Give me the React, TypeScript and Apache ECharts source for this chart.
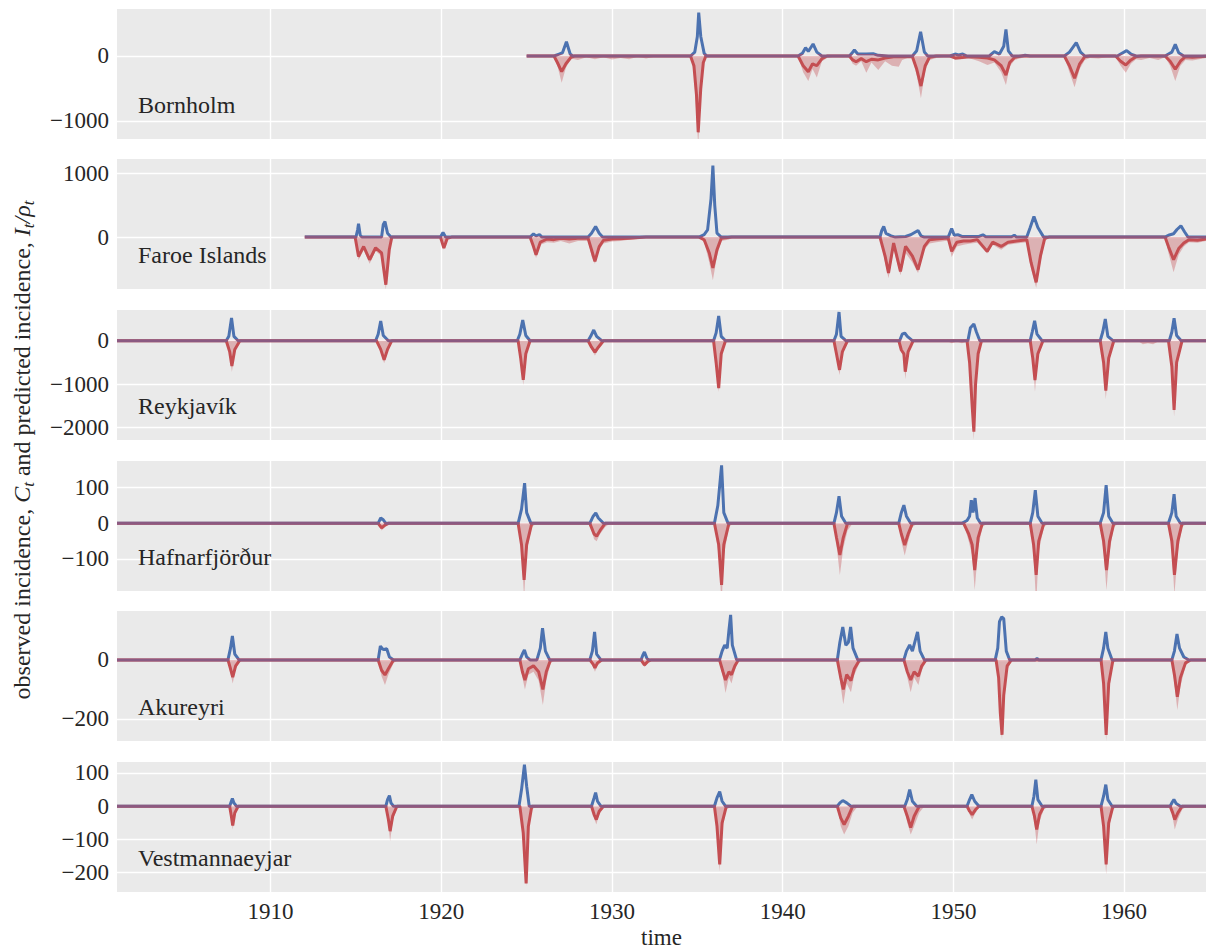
import React, { useEffect, useRef } from 'react';
import * as echarts from 'echarts';

type P = [number, number][];

const locations = ['Bornholm', 'Faroe Islands', 'Reykjavík', 'Hafnarfjörður', 'Akureyri', 'Vestmannaeyjar'];
const yMin = [-1277, -818, -2283, -190, -275, -258];
const yMax = [723, 1231, 706, 175, 166, 133];
const yTicks = [[-1000, 0], [0, 1000], [-2000, -1000, 0], [-100, 0, 100], [-200, 0], [-200, -100, 0, 100]];
const zeroBand = [25, 25, 37, 4.5, 5.4, 4.8];
const xTicks = [1910, 1920, 1930, 1940, 1950, 1960];
const xMin = 1901;
const xMax = 1964.8;

// ---------- Bornholm ----------
const bornholmObserved: P = [
  [1925.0, 0], [1926.6, 0], [1926.9, 30], [1927.1, 50], [1927.33, 220], [1927.55, 30], [1927.7, 0],
  [1934.6, 0], [1934.85, 60], [1935.0, 300], [1935.08, 666], [1935.2, 300], [1935.4, 40], [1935.55, 0],
  [1940.9, 0], [1941.15, 40], [1941.34, 128], [1941.5, 70], [1941.78, 185], [1942.0, 60], [1942.3, 0],
  [1943.9, 0], [1944.05, 40], [1944.2, 92], [1944.4, 30], [1944.9, 30], [1945.3, 35], [1945.6, 10], [1946.2, 0],
  [1947.6, 0], [1947.85, 80], [1948.08, 374], [1948.3, 60], [1948.5, 0],
  [1949.8, 0], [1950.1, 30], [1950.3, 15], [1950.55, 30], [1950.8, 0],
  [1952.1, 0], [1952.4, 66], [1952.7, 30], [1952.95, 150], [1953.08, 410], [1953.22, 80], [1953.45, 0],
  [1954.0, 0], [1954.2, 10], [1954.5, 0],
  [1956.5, 0], [1956.8, 60], [1957.2, 205], [1957.45, 60], [1957.7, 0],
  [1959.6, 0], [1959.8, 30], [1960.15, 82], [1960.4, 30], [1960.7, 0],
  [1962.4, 0], [1962.6, 30], [1962.8, 60], [1963.0, 180], [1963.2, 50], [1963.5, 0], [1964.8, 0],
];
const bornholmPredicted: P = [
  [1925.0, 0], [1926.6, 0], [1926.8, -100], [1927.05, -240], [1927.3, -120], [1927.6, -20], [1927.8, 0],
  [1934.6, 0], [1934.8, -150], [1934.95, -600], [1935.05, -1174], [1935.2, -500], [1935.35, -100], [1935.5, 0],
  [1940.9, 0], [1941.2, -150], [1941.5, -241], [1941.75, -120], [1942.0, -150], [1942.3, -40], [1942.6, 0],
  [1943.9, 0], [1944.1, -60], [1944.3, -88], [1944.6, -40], [1944.9, -88], [1945.2, -50], [1945.6, -60], [1946.0, -30], [1946.5, -10],
  [1947.6, -10], [1947.85, -200], [1948.1, -462], [1948.35, -150], [1948.6, -20], [1949.0, 0],
  [1949.8, 0], [1950.1, -30], [1950.5, -25], [1950.9, -10], [1951.5, -20], [1952.0, -30], [1952.4, -60], [1952.8, -150], [1953.08, -292], [1953.3, -100], [1953.6, -20], [1954.0, 0],
  [1956.5, 0], [1956.8, -150], [1957.1, -343], [1957.4, -120], [1957.7, -10], [1958.0, 0],
  [1959.5, 0], [1959.8, -80], [1960.1, -138], [1960.4, -60], [1960.7, -10], [1961.0, 0],
  [1962.4, 0], [1962.7, -80], [1963.0, -205], [1963.3, -80], [1963.6, -10], [1964.0, -20], [1964.8, -5],
];
const bornholmBand: P = [
  [1925.0, 0], [1926.6, 0], [1926.8, -150], [1927.05, -410], [1927.3, -180], [1927.6, -40], [1928.0, -60], [1928.5, -20], [1929.0, -50], [1929.5, -20], [1930.0, -55], [1930.5, -30], [1931.0, -50], [1931.5, -10], [1932.0, -40], [1932.5, -10], [1933.0, 0],
  [1934.6, 0], [1934.8, -250], [1935.05, -1370], [1935.2, -650], [1935.35, -150], [1935.5, -20], [1935.8, 0],
  [1940.9, 0], [1941.2, -250], [1941.5, -385], [1941.75, -200], [1942.0, -330], [1942.3, -80], [1942.6, -30], [1943.0, -10], [1943.5, -20],
  [1943.9, -10], [1944.1, -120], [1944.3, -150], [1944.6, -80], [1944.9, -257], [1945.2, -100], [1945.6, -215], [1946.0, -80], [1946.4, -150], [1946.8, -165], [1947.0, -60], [1947.3, -30],
  [1947.6, -30], [1947.85, -300], [1948.1, -650], [1948.35, -220], [1948.6, -60], [1949.0, -30], [1949.5, -10],
  [1949.8, -10], [1950.1, -60], [1950.5, -50], [1950.9, -30], [1951.5, -80], [1952.0, -140], [1952.4, -100], [1952.8, -250], [1953.08, -446], [1953.3, -160], [1953.6, -60], [1954.0, -30], [1954.5, -20], [1955.0, -10],
  [1956.5, -10], [1956.8, -250], [1957.1, -482], [1957.4, -200], [1957.7, -60], [1958.0, -30], [1958.5, -40], [1959.0, -20],
  [1959.5, -20], [1959.8, -150], [1960.1, -257], [1960.4, -120], [1960.7, -50], [1961.0, -60], [1961.5, -30], [1962.0, -60],
  [1962.4, -20], [1962.7, -150], [1963.0, -385], [1963.3, -150], [1963.6, -60], [1964.0, -70], [1964.8, -30],
];

// ---------- Faroe Islands ----------
const faroeObserved: P = [
  [1912.0, 0], [1915.0, 0], [1915.1, 120], [1915.15, 209], [1915.25, 30], [1915.35, 0], [1916.5, 0], [1916.6, 200], [1916.7, 245], [1916.85, 60], [1917.05, 0],
  [1919.95, 0], [1920.1, 72], [1920.25, 0],
  [1925.2, 0], [1925.4, 50], [1925.55, 20], [1925.75, 40], [1925.9, 0],
  [1928.6, 0], [1928.8, 60], [1929.04, 168], [1929.25, 60], [1929.45, 0],
  [1935.1, 0], [1935.4, 40], [1935.6, 115], [1935.8, 600], [1935.91, 1126], [1936.02, 500], [1936.15, 63], [1936.4, 0],
  [1945.7, 0], [1945.8, 100], [1945.92, 168], [1946.05, 60], [1946.35, 20], [1946.6, 0], [1947.2, 10], [1947.5, 37], [1947.93, 105], [1948.1, 20], [1948.3, 0],
  [1949.7, 0], [1949.9, 136], [1950.05, 30], [1950.26, 37], [1950.5, 10], [1951.5, 10], [1951.73, 37], [1951.9, 5], [1953.4, 5], [1953.57, 30], [1953.7, 0],
  [1954.3, 0], [1954.5, 150], [1954.72, 325], [1954.95, 150], [1955.29, 0],
  [1962.4, 0], [1962.6, 30], [1962.9, 52], [1963.1, 120], [1963.33, 178], [1963.55, 80], [1963.75, 0], [1964.8, 0],
];
const faroePredicted: P = [
  [1912.0, 0], [1914.95, 0], [1915.15, -305], [1915.45, -148], [1915.8, -357], [1916.15, -168], [1916.5, -250], [1916.75, -750], [1916.95, -200], [1917.1, 0],
  [1919.95, 0], [1920.15, -173], [1920.35, -20], [1920.6, 0],
  [1925.2, 0], [1925.4, -150], [1925.55, -278], [1925.8, -80], [1926.2, -30], [1926.6, -40], [1927.0, -20], [1927.5, -30], [1928.0, -20], [1928.6, -20], [1928.8, -200], [1929.0, -382], [1929.25, -150], [1929.5, -50], [1930.0, -30], [1931.0, -20], [1932.0, 0],
  [1935.1, 0], [1935.4, -42], [1935.7, -250], [1935.91, -487], [1936.15, -200], [1936.4, -20], [1937.0, 0],
  [1945.7, 0], [1946.0, -300], [1946.2, -565], [1946.5, -94], [1946.9, -540], [1947.2, -146], [1947.6, -300], [1947.93, -513], [1948.3, -146], [1948.6, -40], [1949.0, -30], [1949.5, -20],
  [1949.7, -20], [1949.9, -225], [1950.2, -80], [1950.6, -60], [1951.0, -60], [1951.4, -40], [1951.98, -225], [1952.3, -80], [1952.8, -147], [1953.2, -80], [1953.7, -60], [1954.3, -40], [1954.55, -400], [1954.85, -712], [1955.1, -300], [1955.35, -20], [1955.6, 0],
  [1962.4, 0], [1962.6, -150], [1962.9, -356], [1963.2, -180], [1963.5, -94], [1963.8, -40], [1964.3, -50], [1964.8, -30],
];
const faroeBand: P = [
  [1912.0, 0], [1914.95, 0], [1915.15, -360], [1915.45, -200], [1915.8, -420], [1916.15, -220], [1916.5, -300], [1916.75, -828], [1916.95, -260], [1917.1, -20], [1917.4, 0],
  [1919.95, 0], [1920.15, -200], [1920.35, -40], [1920.6, 0],
  [1925.2, 0], [1925.4, -200], [1925.55, -330], [1925.8, -120], [1926.2, -80], [1926.6, -90], [1927.0, -60], [1927.5, -100], [1928.0, -60], [1928.6, -60], [1928.8, -300], [1929.0, -419], [1929.25, -200], [1929.5, -100], [1930.0, -70], [1930.5, -60], [1931.0, -40], [1931.5, -30], [1932.0, -10],
  [1935.1, -5], [1935.4, -80], [1935.7, -400], [1935.91, -680], [1936.15, -300], [1936.4, -60], [1936.8, -40], [1937.2, 0],
  [1945.7, 0], [1946.0, -400], [1946.2, -650], [1946.5, -200], [1946.9, -600], [1947.2, -250], [1947.6, -400], [1947.93, -565], [1948.3, -200], [1948.6, -100], [1949.0, -80], [1949.5, -60],
  [1949.7, -60], [1949.9, -314], [1950.2, -150], [1950.6, -120], [1951.0, -100], [1951.4, -90], [1951.98, -260], [1952.3, -120], [1952.8, -200], [1953.2, -120], [1953.7, -100], [1954.3, -80], [1954.55, -500], [1954.85, -800], [1955.1, -400], [1955.35, -60], [1955.6, -10],
  [1962.4, -10], [1962.6, -250], [1962.9, -555], [1963.2, -280], [1963.5, -150], [1963.8, -80], [1964.3, -90], [1964.8, -60],
];

// ---------- Reykjavík ----------
const reykjavikObserved: P = [
  [1901, 0], [1907.4, 0], [1907.55, 100], [1907.71, 522], [1907.85, 100], [1908.1, 0],
  [1916.15, 0], [1916.3, 150], [1916.45, 453], [1916.6, 120], [1916.9, 0],
  [1924.45, 0], [1924.6, 150], [1924.77, 476], [1924.95, 120], [1925.2, 0],
  [1928.6, 0], [1928.75, 100], [1928.93, 246], [1929.1, 100], [1929.4, 0],
  [1935.95, 0], [1936.1, 180], [1936.25, 568], [1936.4, 100], [1936.65, 0],
  [1943.0, 0], [1943.15, 150], [1943.3, 660], [1943.42, 100], [1943.7, 0],
  [1946.85, 0], [1947.0, 150], [1947.15, 177], [1947.3, 100], [1947.6, 0],
  [1950.85, 0], [1951.0, 300], [1951.2, 384], [1951.35, 200], [1951.55, 0],
  [1954.5, 0], [1954.62, 200], [1954.76, 460], [1954.9, 150], [1955.2, 0],
  [1958.6, 0], [1958.75, 200], [1958.9, 498], [1959.05, 100], [1959.35, 0],
  [1962.65, 0], [1962.8, 200], [1962.93, 515], [1963.08, 120], [1963.35, 0], [1964.8, 0],
];
const reykjavikPredicted: P = [
  [1901, 0], [1907.4, 0], [1907.6, -250], [1907.73, -580], [1907.9, -200], [1908.2, 0],
  [1916.2, 0], [1916.45, -200], [1916.65, -440], [1916.85, -200], [1917.1, 0],
  [1924.5, 0], [1924.65, -400], [1924.8, -900], [1924.95, -300], [1925.2, 0],
  [1928.6, 0], [1928.8, -150], [1929.0, -260], [1929.2, -150], [1929.5, 0],
  [1935.95, 0], [1936.1, -500], [1936.25, -1090], [1936.4, -300], [1936.65, 0],
  [1943.0, 0], [1943.15, -300], [1943.33, -670], [1943.5, -250], [1943.8, 0],
  [1946.8, 0], [1946.95, -214], [1947.1, -300], [1947.18, -712], [1947.35, -250], [1947.65, 0],
  [1950.8, 0], [1950.95, -500], [1951.1, -1500], [1951.2, -2092], [1951.3, -1000], [1951.45, -300], [1951.65, 0],
  [1954.5, 0], [1954.65, -400], [1954.78, -903], [1954.95, -300], [1955.25, 0],
  [1958.6, 0], [1958.8, -500], [1958.93, -1149], [1959.1, -400], [1959.4, 0],
  [1962.6, 0], [1962.8, -600], [1962.93, -1593], [1963.08, -500], [1963.4, 0], [1964.8, 0],
];
const reykjavikBand: P = [
  [1901, 0], [1907.4, 0], [1907.6, -300], [1907.73, -720], [1907.9, -260], [1908.2, -20], [1908.5, 0],
  [1916.2, 0], [1916.45, -260], [1916.65, -520], [1916.85, -260], [1917.1, -30], [1917.4, 0],
  [1924.5, 0], [1924.65, -480], [1924.8, -1020], [1924.95, -380], [1925.2, -30], [1925.5, 0],
  [1928.6, 0], [1928.8, -200], [1929.0, -340], [1929.2, -200], [1929.5, -30], [1929.8, 0],
  [1935.95, 0], [1936.1, -600], [1936.25, -1180], [1936.4, -400], [1936.65, -30], [1936.9, 0],
  [1943.0, 0], [1943.15, -380], [1943.33, -790], [1943.5, -320], [1943.8, -30], [1944.1, 0],
  [1946.8, 0], [1946.95, -260], [1947.1, -380], [1947.18, -887], [1947.35, -320], [1947.65, -30], [1948.0, 0],
  [1949.6, 0], [1949.9, -60], [1950.2, -20], [1950.5, -60], [1950.8, -20], [1950.95, -600], [1951.1, -1700], [1951.2, -2283], [1951.3, -1200], [1951.45, -400], [1951.65, -30], [1952.0, 0],
  [1954.5, 0], [1954.65, -500], [1954.78, -1172], [1954.95, -400], [1955.25, -30], [1955.6, 0],
  [1958.6, 0], [1958.8, -600], [1958.93, -1348], [1959.1, -500], [1959.4, -30], [1959.7, 0],
  [1960.8, 0], [1961.1, -80], [1961.4, -60], [1961.7, -80], [1962.0, -20],
  [1962.6, -10], [1962.8, -700], [1962.93, -1747], [1963.08, -600], [1963.4, -30], [1963.8, 0], [1964.8, 0],
];

// ---------- Hafnarfjörður ----------
const hafnarObserved: P = [
  [1901, 0], [1916.3, 0], [1916.45, 15], [1916.6, 10], [1916.75, 0],
  [1924.5, 0], [1924.7, 40], [1924.88, 113], [1925.0, 30], [1925.25, 0],
  [1928.7, 0], [1928.9, 20], [1929.05, 29], [1929.2, 15], [1929.5, 0],
  [1936.0, 0], [1936.2, 50], [1936.42, 163], [1936.55, 30], [1936.8, 0],
  [1943.0, 0], [1943.15, 30], [1943.3, 76], [1943.45, 20], [1943.7, 0],
  [1946.8, 0], [1946.95, 30], [1947.1, 51], [1947.25, 20], [1947.5, 0],
  [1950.5, 0], [1950.8, 8], [1950.95, 20], [1951.05, 65], [1951.15, 30], [1951.27, 71], [1951.4, 15], [1951.6, 0],
  [1954.5, 0], [1954.65, 30], [1954.8, 93], [1954.95, 20], [1955.2, 0],
  [1958.6, 0], [1958.8, 30], [1958.95, 107], [1959.1, 20], [1959.35, 0],
  [1962.6, 0], [1962.8, 30], [1962.93, 82], [1963.05, 20], [1963.3, 0], [1964.8, 0],
];
const hafnarPredicted: P = [
  [1901, 0], [1916.3, 0], [1916.5, -13], [1916.7, -5], [1916.9, 0],
  [1924.5, 0], [1924.7, -60], [1924.85, -159], [1925.0, -60], [1925.3, 0],
  [1928.7, 0], [1928.95, -30], [1929.1, -36], [1929.3, -20], [1929.6, 0],
  [1936.0, 0], [1936.25, -60], [1936.42, -173], [1936.55, -60], [1936.85, 0],
  [1943.0, 0], [1943.15, -40], [1943.35, -89], [1943.55, -40], [1943.8, 0],
  [1946.8, 0], [1946.95, -30], [1947.15, -61], [1947.35, -30], [1947.6, 0],
  [1950.6, 0], [1950.9, -30], [1951.1, -60], [1951.25, -131], [1951.45, -40], [1951.7, 0],
  [1954.5, 0], [1954.7, -60], [1954.85, -145], [1955.0, -50], [1955.3, 0],
  [1958.6, 0], [1958.8, -50], [1958.97, -131], [1959.15, -50], [1959.4, 0],
  [1962.6, 0], [1962.8, -50], [1962.95, -145], [1963.15, -50], [1963.4, 0], [1964.8, 0],
];
const hafnarBand: P = [
  [1901, 0], [1916.3, 0], [1916.5, -20], [1916.7, -10], [1916.9, 0],
  [1924.5, 0], [1924.7, -80], [1924.85, -209], [1925.0, -80], [1925.3, -10], [1925.6, 0],
  [1928.7, 0], [1928.95, -45], [1929.1, -50], [1929.3, -30], [1929.6, -10], [1929.9, 0],
  [1936.0, 0], [1936.25, -90], [1936.42, -230], [1936.55, -90], [1936.85, -10], [1937.1, 0],
  [1943.0, 0], [1943.15, -60], [1943.35, -145], [1943.55, -70], [1943.8, -20], [1944.1, 0],
  [1946.8, 0], [1946.95, -50], [1947.15, -90], [1947.35, -50], [1947.6, -10], [1947.9, 0],
  [1950.6, 0], [1950.9, -50], [1951.1, -90], [1951.25, -187], [1951.45, -70], [1951.7, -10], [1952.0, 0],
  [1954.5, 0], [1954.7, -90], [1954.85, -230], [1955.0, -80], [1955.3, -10], [1955.6, 0],
  [1958.6, 0], [1958.8, -80], [1958.97, -187], [1959.15, -80], [1959.4, -10], [1959.7, 0],
  [1962.6, 0], [1962.8, -80], [1962.95, -200], [1963.15, -80], [1963.4, -10], [1963.7, 0], [1964.8, 0],
];

// ---------- Akureyri ----------
const akureyriObserved: P = [
  [1901, 0], [1907.5, 0], [1907.65, 40], [1907.76, 81], [1907.9, 20], [1908.15, 0],
  [1916.3, 0], [1916.43, 47], [1916.6, 35], [1916.8, 38], [1916.96, 10], [1917.2, 0],
  [1924.6, 0], [1924.75, 20], [1924.87, 34], [1925.0, 10], [1925.2, 0], [1925.6, 0], [1925.8, 40], [1925.93, 108], [1926.1, 30], [1926.35, 0],
  [1928.7, 0], [1928.85, 30], [1928.98, 95], [1929.1, 20], [1929.35, 0],
  [1931.7, 0], [1931.8, 15], [1931.9, 27], [1932.05, 5], [1932.2, 0],
  [1936.3, 0], [1936.45, 30], [1936.6, 50], [1936.75, 40], [1936.85, 100], [1936.95, 153], [1937.05, 50], [1937.3, 0],
  [1943.2, 0], [1943.35, 60], [1943.52, 112], [1943.7, 50], [1943.85, 60], [1943.98, 112], [1944.12, 40], [1944.4, 0],
  [1947.1, 0], [1947.25, 30], [1947.44, 51], [1947.6, 30], [1947.9, 95], [1948.05, 30], [1948.3, 0],
  [1952.45, 0], [1952.6, 40], [1952.7, 130], [1952.83, 146], [1952.95, 140], [1953.1, 30], [1953.3, 0],
  [1954.8, 0], [1954.9, 5], [1955.0, 0],
  [1958.65, 0], [1958.8, 40], [1958.93, 95], [1959.05, 40], [1959.3, 0],
  [1962.8, 0], [1962.95, 30], [1963.1, 88], [1963.25, 40], [1963.5, 10], [1963.8, 0], [1964.8, 0],
];
const akureyriPredicted: P = [
  [1901, 0], [1907.5, 0], [1907.65, -30], [1907.78, -58], [1907.95, -20], [1908.2, 0],
  [1916.3, 0], [1916.5, -35], [1916.7, -51], [1916.9, -30], [1917.2, 0],
  [1924.6, 0], [1924.75, -40], [1924.9, -68], [1925.1, -30], [1925.4, -20], [1925.7, -40], [1925.95, -100], [1926.15, -40], [1926.4, 0],
  [1928.7, 0], [1928.9, -15], [1929.0, -27], [1929.15, -10], [1929.4, 0],
  [1931.7, 0], [1931.9, -17], [1932.1, -5], [1932.3, 0],
  [1936.3, 0], [1936.5, -40], [1936.65, -68], [1936.85, -40], [1937.0, -50], [1937.2, -20], [1937.4, 0],
  [1943.2, 0], [1943.4, -60], [1943.55, -100], [1943.75, -50], [1944.0, -70], [1944.2, -30], [1944.5, 0],
  [1947.1, 0], [1947.3, -40], [1947.5, -68], [1947.7, -40], [1947.95, -55], [1948.15, -20], [1948.4, 0],
  [1952.5, 0], [1952.65, -60], [1952.75, -180], [1952.85, -254], [1952.95, -120], [1953.15, -20], [1953.4, 0],
  [1958.65, 0], [1958.8, -80], [1958.95, -254], [1959.1, -80], [1959.35, 0],
  [1962.8, 0], [1962.95, -50], [1963.12, -125], [1963.3, -60], [1963.6, -10], [1963.9, 0], [1964.8, 0],
];
const akureyriBand: P = [
  [1901, 0], [1907.5, 0], [1907.65, -45], [1907.78, -80], [1907.95, -30], [1908.2, -5], [1908.5, 0],
  [1916.3, 0], [1916.5, -55], [1916.7, -85], [1916.9, -50], [1917.2, -10], [1917.5, 0],
  [1924.6, 0], [1924.75, -60], [1924.9, -100], [1925.1, -50], [1925.4, -40], [1925.7, -70], [1925.95, -153], [1926.15, -70], [1926.4, -10], [1926.7, 0],
  [1928.7, 0], [1928.9, -25], [1929.0, -40], [1929.15, -20], [1929.4, -5], [1929.7, 0],
  [1931.7, 0], [1931.9, -25], [1932.1, -10], [1932.3, 0],
  [1936.3, 0], [1936.5, -60], [1936.65, -112], [1936.85, -60], [1937.0, -80], [1937.2, -35], [1937.4, -5], [1937.7, 0],
  [1943.2, 0], [1943.4, -90], [1943.55, -150], [1943.75, -80], [1944.0, -110], [1944.2, -50], [1944.5, -10], [1944.8, 0],
  [1947.1, 0], [1947.3, -60], [1947.5, -110], [1947.7, -60], [1947.95, -85], [1948.15, -35], [1948.4, -5], [1948.7, 0],
  [1952.5, 0], [1952.65, -80], [1952.75, -220], [1952.85, -270], [1952.95, -150], [1953.15, -35], [1953.4, -5], [1953.7, 0],
  [1958.65, 0], [1958.8, -110], [1958.95, -275], [1959.1, -110], [1959.35, -10], [1959.6, 0],
  [1962.8, 0], [1962.95, -80], [1963.12, -170], [1963.3, -90], [1963.6, -20], [1963.9, 0], [1964.8, 0],
];

// ---------- Vestmannaeyjar ----------
const vestObserved: P = [
  [1901, 0], [1907.6, 0], [1907.7, 15], [1907.76, 23], [1907.85, 10], [1908.0, 0],
  [1916.75, 0], [1916.85, 20], [1916.96, 32], [1917.05, 10], [1917.2, 0],
  [1924.55, 0], [1924.7, 50], [1924.87, 125], [1925.0, 60], [1925.15, 0],
  [1928.8, 0], [1928.95, 25], [1929.04, 41], [1929.15, 15], [1929.35, 0],
  [1936.0, 0], [1936.15, 25], [1936.31, 44], [1936.45, 15], [1936.65, 0],
  [1943.2, 0], [1943.35, 10], [1943.52, 17], [1943.75, 10], [1944.0, 0],
  [1947.15, 0], [1947.3, 20], [1947.44, 50], [1947.6, 15], [1947.85, 0],
  [1950.8, 0], [1950.95, 20], [1951.08, 35], [1951.25, 15], [1951.5, 0],
  [1954.6, 0], [1954.72, 30], [1954.83, 80], [1954.95, 20], [1955.2, 0],
  [1958.65, 0], [1958.8, 30], [1958.93, 65], [1959.05, 20], [1959.3, 0],
  [1962.7, 0], [1962.82, 12], [1962.92, 20], [1963.05, 8], [1963.3, 0], [1964.8, 0],
];
const vestPredicted: P = [
  [1901, 0], [1907.6, 0], [1907.7, -30], [1907.78, -58], [1907.9, -20], [1908.1, 0],
  [1916.75, 0], [1916.9, -40], [1917.0, -75], [1917.15, -30], [1917.4, 0],
  [1924.6, 0], [1924.8, -80], [1924.97, -232], [1925.1, -60], [1925.3, 0],
  [1928.8, 0], [1928.95, -25], [1929.08, -40], [1929.25, -15], [1929.5, 0],
  [1936.0, 0], [1936.15, -60], [1936.31, -175], [1936.45, -50], [1936.7, 0],
  [1943.2, 0], [1943.4, -35], [1943.6, -55], [1943.85, -30], [1944.1, 0],
  [1947.1, 0], [1947.3, -30], [1947.5, -64], [1947.7, -30], [1948.0, 0],
  [1950.8, 0], [1950.95, -15], [1951.1, -25], [1951.3, -10], [1951.5, 0],
  [1954.6, 0], [1954.75, -30], [1954.88, -70], [1955.05, -25], [1955.3, 0],
  [1958.65, 0], [1958.8, -60], [1958.95, -175], [1959.1, -50], [1959.35, 0],
  [1962.7, 0], [1962.85, -20], [1962.97, -40], [1963.15, -20], [1963.4, 0], [1964.8, 0],
];
const vestBand: P = [
  [1901, 0], [1907.6, 0], [1907.7, -40], [1907.78, -70], [1907.9, -30], [1908.1, -5], [1908.3, 0],
  [1916.75, 0], [1916.9, -55], [1917.0, -105], [1917.15, -45], [1917.4, -5], [1917.7, 0],
  [1924.6, 0], [1924.8, -100], [1924.97, -240], [1925.1, -80], [1925.3, -10], [1925.6, 0],
  [1928.8, 0], [1928.95, -35], [1929.08, -55], [1929.25, -25], [1929.5, -5], [1929.8, 0],
  [1936.0, 0], [1936.15, -80], [1936.31, -196], [1936.45, -70], [1936.7, -10], [1937.0, 0],
  [1943.2, 0], [1943.4, -60], [1943.6, -85], [1943.85, -60], [1944.1, -20], [1944.4, 0],
  [1947.1, 0], [1947.3, -50], [1947.5, -85], [1947.7, -60], [1948.0, -20], [1948.3, 0],
  [1950.8, 0], [1950.95, -25], [1951.1, -40], [1951.3, -20], [1951.5, -5], [1951.8, 0],
  [1954.6, 0], [1954.75, -50], [1954.88, -115], [1955.05, -45], [1955.3, -10], [1955.6, 0],
  [1958.65, 0], [1958.8, -80], [1958.95, -205], [1959.1, -70], [1959.35, -10], [1959.6, 0],
  [1962.7, 0], [1962.85, -35], [1962.97, -70], [1963.15, -40], [1963.4, -10], [1963.7, 0], [1964.8, 0],
];

const observed: P[] = [bornholmObserved, faroeObserved, reykjavikObserved, hafnarObserved, akureyriObserved, vestObserved];
const predicted: P[] = [bornholmPredicted, faroePredicted, reykjavikPredicted, hafnarPredicted, akureyriPredicted, vestPredicted];
const bands: P[] = [bornholmBand, faroeBand, reykjavikBand, hafnarBand, akureyriBand, vestBand];

const BLUE = '#4C72B0';
const RED = '#C44E52';
const MAUVE = '#8B5A82';
const BAND = 'rgba(196,78,82,0.36)';
const BG = '#EAEAEA';
const TEXT = '#262626';
const FONT = 'Liberation Serif';

const gridTops = [9, 159, 310, 461, 611, 762];
const gridLeft = 117;
const gridHeight = 130;

const fmt = (v: number) => (v < 0 ? '\u2212' + Math.abs(v) : String(v));

function buildOption() {
  const grid: any[] = [];
  const xAxis: any[] = [];
  const yAxis: any[] = [];
  const series: any[] = [];
  const visualMap: any[] = [];
  const graphic: any[] = [];

  locations.forEach((name, i) => {
    grid.push({
      left: gridLeft, right: 0, top: gridTops[i], height: gridHeight,
      show: true, backgroundColor: BG, borderWidth: 0,
    });
    const last = i === locations.length - 1;
    xAxis.push({
      type: 'value', gridIndex: i, min: xMin, max: xMax,
      axisLine: { show: false },
      axisTick: { show: false, customValues: xTicks },
      axisLabel: {
        show: last, customValues: xTicks, margin: 8,
        color: TEXT, fontFamily: FONT, fontSize: 23,
        formatter: (v: number) => String(v),
      },
      splitLine: { show: true, lineStyle: { color: '#FFFFFF', width: 1.4 } },
      name: last ? 'time' : '',
      nameLocation: 'middle', nameGap: 34,
      nameTextStyle: { color: TEXT, fontFamily: FONT, fontSize: 23 },
    });
    yAxis.push({
      type: 'value', gridIndex: i, min: yMin[i], max: yMax[i],
      axisLine: { show: false },
      axisTick: { show: false, customValues: yTicks[i] },
      axisLabel: {
        customValues: yTicks[i], margin: 8,
        color: TEXT, fontFamily: FONT, fontSize: 23,
        formatter: fmt,
      },
      splitLine: { show: true, lineStyle: { color: '#FFFFFF', width: 1.4 } },
    });
    series.push({
      type: 'line', name: name + ' band', xAxisIndex: i, yAxisIndex: i,
      data: bands[i], showSymbol: false, symbol: 'none', silent: true, z: 1,
      lineStyle: { width: 0, opacity: 0 },
      areaStyle: { color: BAND, opacity: 1 },
    });
    series.push({
      type: 'line', name: name + ' predicted', xAxisIndex: i, yAxisIndex: i,
      data: predicted[i], showSymbol: false, symbol: 'none', silent: true, z: 2,
      lineStyle: { width: 3, color: RED },
      itemStyle: { color: RED },
    });
    const blueIndex = series.length;
    series.push({
      type: 'line', name: name + ' observed', xAxisIndex: i, yAxisIndex: i,
      data: observed[i], showSymbol: false, symbol: 'none', silent: true, z: 3,
      lineStyle: { width: 3 },
    });
    visualMap.push({
      type: 'piecewise', show: false, seriesIndex: blueIndex, dimension: 1,
      pieces: [
        { min: -100000, max: zeroBand[i], color: MAUVE },
        { min: zeroBand[i], max: 100000, color: BLUE },
      ],
    });
    graphic.push({
      type: 'text', left: 138, top: gridTops[i] + gridHeight - 33 - 13,
      style: { text: name, fill: TEXT, fontFamily: FONT, fontSize: 24 },
      z: 10,
    });
  });

  graphic.push({
    type: 'text', x: 22, y: 450, rotation: Math.PI / 2,
    style: {
      text: '{n|observed incidence, }{i|C}{s|t}{n| and predicted incidence, }{i|I}{s|t}{i|/ρ}{s|t}',
      align: 'center', verticalAlign: 'middle', fill: TEXT,
      fontFamily: FONT, fontSize: 24,
      rich: {
        n: { fontFamily: FONT, fontSize: 24, lineHeight: 30, fill: TEXT },
        i: { fontFamily: FONT, fontSize: 24, fontStyle: 'italic', lineHeight: 30, fill: TEXT },
        s: { fontFamily: FONT, fontSize: 17, fontStyle: 'italic', lineHeight: 21, verticalAlign: 'bottom', fill: TEXT },
      },
    },
    z: 10,
  });

  return {
    animation: false,
    backgroundColor: '#FFFFFF',
    textStyle: { fontFamily: FONT },
    grid, xAxis, yAxis, series, visualMap, graphic,
  };
}

export default function App() {
  const ref = useRef<HTMLDivElement>(null);
  useEffect(() => {
    if (!ref.current) return;
    const chart = echarts.init(ref.current, undefined, { renderer: 'svg' });
    chart.setOption(buildOption() as any);
    return () => chart.dispose();
  }, []);
  return (
    <div
      ref={ref}
      style={{ position: 'absolute', left: 0, top: 0, width: 1206, height: 950 }}
    />
  );
}
